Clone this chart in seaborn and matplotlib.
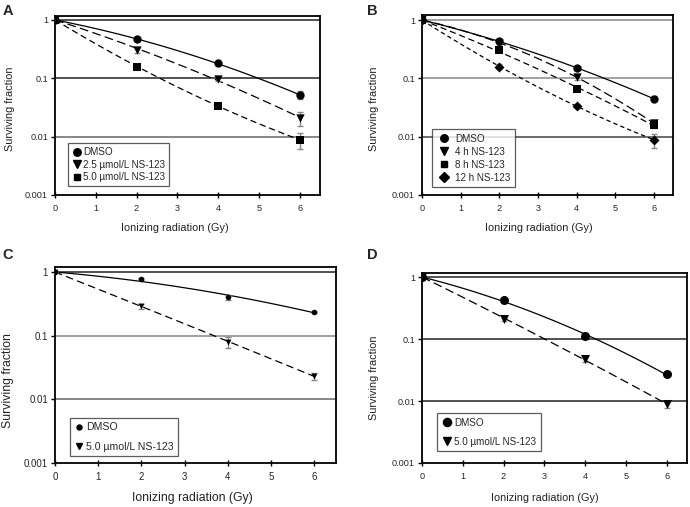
import numpy as np
import pandas as pd
import matplotlib
matplotlib.use("Agg")
import matplotlib.pyplot as plt
from matplotlib.lines import Line2D
from matplotlib.ticker import FixedLocator, FuncFormatter
import seaborn as sns

# ---- data ----
dose = [0, 2, 4, 6]

# A: concentration
a_names = ["DMSO", "2.5 µmol/L NS-123", "5.0 µmol/L NS-123"]
a_dmso = [1.0, 0.467, 0.18, 0.052]
a_25 = [1.0, 0.306, 0.097, 0.021]
a_50 = [1.0, 0.158, 0.034, 0.0088]
a_dmso_err = [0.0, 0.02, 0.01, 0.008]
a_25_err = [0.0, 0.03, 0.008, 0.0055]
a_50_err = [0.0, 0.012, 0.003, 0.0027]

# B: pre-treatment time
b_names = ["DMSO", "4 h NS-123", "8 h NS-123", "12 h NS-123"]
b_dmso = [1.0, 0.44, 0.148, 0.045]
b_4h = [1.0, 0.41, 0.104, 0.017]
b_8h = [1.0, 0.306, 0.066, 0.0158]
b_12h = [1.0, 0.158, 0.034, 0.0088]
b_dmso_err = [0.0, 0.03, 0.01, 0.004]
b_4h_err = [0.0, 0.03, 0.01, 0.002]
b_8h_err = [0.0, 0.02, 0.005, 0.0018]
b_12h_err = [0.0, 0.015, 0.003, 0.0025]

# C
c_names = ["DMSO", "5.0 µmol/L NS-123"]
c_dmso = [1.0, 0.77, 0.40, 0.235]
c_50 = [1.0, 0.29, 0.081, 0.023]
c_dmso_err = [0.0, 0.03, 0.03, 0.01]
c_50_err = [0.0, 0.03, 0.016, 0.003]

# D
d_names = ["DMSO", "5.0 µmol/L NS-123"]
d_dmso = [1.0, 0.43, 0.112, 0.027]
d_50 = [1.0, 0.213, 0.047, 0.0089]
d_dmso_err = [0.0, 0.02, 0.008, 0.002]
d_50_err = [0.0, 0.015, 0.005, 0.0012]

yticks = [0.001, 0.01, 0.1, 1]

sns.set_theme(style="white")
plt.rcParams["font.family"] = ["Liberation Sans", "DejaVu Sans"]

fig = plt.figure(figsize=(6.9, 5.07), dpi=100)


def lq_curve(sf):
    # linear-quadratic fit through the origin on ln(SF)
    d = np.array(dose, dtype=float)
    A = np.column_stack([d, d ** 2])
    coef, *_ = np.linalg.lstsq(A, np.log(sf), rcond=None)
    xs = np.linspace(0, 6, 120)
    return pd.DataFrame({"x": xs, "y": np.exp(coef[0] * xs + coef[1] * xs ** 2)})


def panel(rect, letter, letter_xy, series, legpos, gridcols, fs, ylim_top,
          ylab_xy, xlab_xy, legopts, msize):
    ax = fig.add_axes(rect)
    ax.set_yscale("log")
    for (name, vals, err, marker, ls, ms) in series:
        fit = lq_curve(vals)
        sns.lineplot(data=fit, x="x", y="y", ax=ax, color="black", lw=0.9,
                     linestyle=ls, zorder=2)
        ax.errorbar(dose, vals, yerr=err, fmt="none", ecolor="#888888",
                    elinewidth=1, capsize=2.5, capthick=1, zorder=2.5)
        sns.scatterplot(x=dose, y=vals, ax=ax, marker=marker, s=(ms * msize) ** 2,
                        color="black", linewidth=0, zorder=3)
    for yv, c in zip([1, 0.1, 0.01], gridcols):
        ax.axhline(yv, color=c, lw=1.1, zorder=1)
    ax.set_xlim(0, 6.5)
    ax.set_ylim(0.001, ylim_top)
    ax.xaxis.set_major_locator(FixedLocator(range(7)))
    ax.yaxis.set_major_locator(FixedLocator(yticks))
    ax.yaxis.set_minor_locator(FixedLocator([]))
    ax.yaxis.set_major_formatter(FuncFormatter(lambda v, p: "%g" % v))
    ax.tick_params(axis="x", direction="inout", length=5, width=1, labelsize=fs[0],
                   pad=4, color="black", bottom=True)
    ax.tick_params(axis="y", direction="out", length=3, width=1, labelsize=fs[0],
                   pad=2, color="black", left=True)
    for sp in ax.spines.values():
        sp.set_color("black")
        sp.set_linewidth(1.3)
    ax.set_xlabel("Ionizing radiation (Gy)", fontsize=fs[1], color="#222222")
    ax.set_ylabel("Surviving fraction", fontsize=fs[1], color="#222222")
    ax.xaxis.set_label_coords(*xlab_xy)
    ax.yaxis.set_label_coords(*ylab_xy)
    handles = [Line2D([], [], marker=s[3], ls="none", color="black",
                      markersize=s[5] * msize * 0.9) for s in series]
    leg = ax.legend(handles, [s[0] for s in series], loc="lower left",
                    bbox_to_anchor=legpos, borderaxespad=0, fontsize=fs[2],
                    frameon=True, fancybox=False, **legopts)
    leg.get_frame().set_edgecolor("#333333")
    leg.get_frame().set_linewidth(0.9)
    fig.text(letter_xy[0], letter_xy[1], letter, fontsize=10.5,
             fontweight="bold", va="center", ha="left")
    return ax


long_d = (0, (7, 3.5))
mid_d = (0, (5, 3))
short_d = (0, (3.5, 2.5))

panel([0.0797, 0.6154, 0.384, 0.354], "A", (0.004, 0.978),
      [(a_names[0], a_dmso, a_dmso_err, "o", "-", 1.0),
       (a_names[1], a_25, a_25_err, "v", long_d, 1.0),
       (a_names[2], a_50, a_50_err, "s", mid_d, 0.85)],
      (0.049, 0.05), ["#222222", "#222222", "#666666"], (6.6, 7.8, 7.1), 1.19,
      (-0.151, 0.48), (0.453, -0.155),
      dict(handletextpad=0.1, handlelength=1.0, labelspacing=0.25, borderpad=0.4),
      6.0)

panel([0.6116, 0.6154, 0.364, 0.355], "B", (0.532, 0.978),
      [(b_names[0], b_dmso, b_dmso_err, "o", "-", 1.0),
       (b_names[1], b_4h, b_4h_err, "v", long_d, 1.0),
       (b_names[2], b_8h, b_8h_err, "s", mid_d, 0.85),
       (b_names[3], b_12h, b_12h_err, "D", short_d, 0.85)],
      (0.04, 0.044), ["#888888", "#888888", "#444444"], (6.6, 7.8, 7.1), 1.22,
      (-0.171, 0.48), (0.464, -0.155),
      dict(handletextpad=0.3, handlelength=1.6, labelspacing=0.3, borderpad=0.45),
      6.0)

panel([0.0797, 0.0868, 0.407, 0.3866], "C", (0.004, 0.497),
      [(c_names[0], c_dmso, c_dmso_err, "o", "-", 1.0),
       (c_names[1], c_50, c_50_err, "v", (0, (6, 3.5)), 1.05)],
      (0.053, 0.036), ["#222222", "#888888", "#666666"], (7.0, 8.8, 7.6), 1.2,
      (-0.146, 0.418), (0.49, -0.15),
      dict(handletextpad=0.2, handlelength=0.9, labelspacing=0.9, borderpad=0.4),
      4.0)

panel([0.6116, 0.0868, 0.384, 0.3747], "D", (0.532, 0.497),
      [(d_names[0], d_dmso, d_dmso_err, "o", "-", 1.0),
       (d_names[1], d_50, d_50_err, "v", long_d, 1.0)],
      (0.057, 0.063), ["#222222", "#222222", "#222222"], (6.6, 7.8, 7.1), 1.16,
      (-0.162, 0.45), (0.462, -0.158),
      dict(handletextpad=0.2, handlelength=1.1, labelspacing=0.9, borderpad=0.45),
      6.5)

fig.savefig("out.png", dpi=100, facecolor="white")
